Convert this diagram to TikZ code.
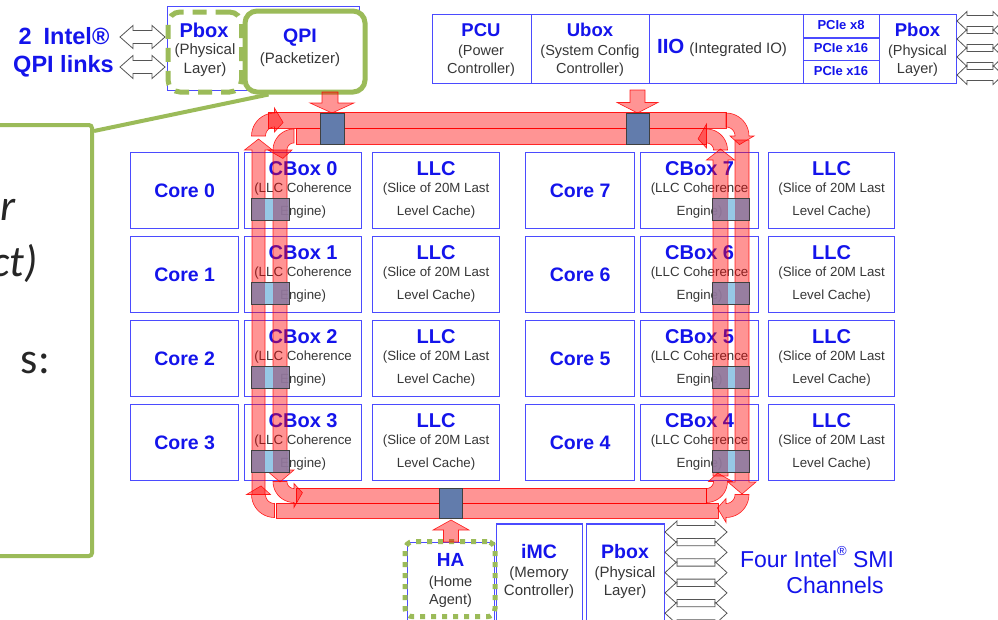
\documentclass[tikz,border=0pt]{standalone}
\usepackage{fontspec}
\setmainfont{Liberation Sans}
\newfontfamily\calibri{Carlito}
\definecolor{boxblue}{RGB}{75,75,255}
\definecolor{txtblue}{RGB}{20,20,235}
\definecolor{txtgray}{RGB}{55,55,55}
\definecolor{grn}{RGB}{155,187,89}
\definecolor{stopblue}{RGB}{98,124,172}
\definecolor{stoppurple}{RGB}{140,124,162}
\definecolor{stoplight}{RGB}{150,200,230}
\definecolor{arrgray}{RGB}{85,85,85}
\tikzset{
 cell/.style={draw=boxblue, line width=1.2pt, fill=white, inner sep=0pt},
 ttl/.style={font=\bfseries\fontsize{20}{24}\selectfont, text=txtblue, inner sep=0pt},
 ttlcore/.style={font=\bfseries\fontsize{19.5}{24}\selectfont, text=txtblue, inner sep=0pt},
 sub/.style={font=\fontsize{13.3}{16}\selectfont, text=txtgray, inner sep=0pt},
 ttlm/.style={font=\bfseries\fontsize{18.5}{22}\selectfont, text=txtblue, inner sep=0pt},
 subm/.style={font=\fontsize{14.5}{17}\selectfont, text=txtgray, inner sep=0pt},
 pcie/.style={font=\bfseries\fontsize{13}{15}\selectfont, text=txtblue, inner sep=0pt},
 big/.style={font=\bfseries\fontsize{23.5}{27}\selectfont, text=txtblue, inner sep=0pt},
 smi/.style={font=\fontsize{23}{27}\selectfont, text=txtblue, inner sep=0pt},
 ring/.style={fill=red, fill opacity=0.42, draw=red, draw opacity=0.85, line width=0.6pt},
 stopbox/.style={fill=stopblue, draw=black!75, line width=0.8pt, inner sep=0pt},
 hollow/.style={fill=white, draw=arrgray, line width=0.8pt},
 callfont/.style={font=\calibri\itshape\fontsize{44}{50}\selectfont, text=black!85, inner sep=0pt, anchor=base east},
}
\newcommand\corecell[5]{%
 \node[cell, anchor=north west, minimum width=#4pt, minimum height=76pt] (#1) at (#2,#3) {};
 \node[ttlcore] (#1-t) at (#1.center) {#5};}
\newcommand\cellthree[7]{%
 \node[cell, anchor=north west, minimum width=#4pt, minimum height=76pt] (#1) at (#2,#3) {};
 \node[ttl] (#1-t) at ([yshift=-16.3pt]#1.north) {#5};
 \node[sub] (#1-a) at ([yshift=-37.3pt]#1.north) {#6};
 \node[sub] (#1-b) at ([yshift=-59.7pt]#1.north) {#7};}
\newcommand\dblarrow[6]{%
 \draw[hollow] (#1,#3) -- ({#1+#6},{#3-#5}) -- ({#1+#6},{#3-#4}) -- ({#2-#6},{#3-#4}) -- ({#2-#6},{#3-#5}) -- (#2,#3)
  -- ({#2-#6},{#3+#5}) -- ({#2-#6},{#3+#4}) -- ({#1+#6},{#3+#4}) -- ({#1+#6},{#3+#5}) -- cycle;}
\newcommand\ringarc[6]{%
 \pgfmathsetmacro\rta{#5+#6*520/#3}%
 \pgfmathsetmacro\rro{#3+7}\pgfmathsetmacro\rri{#3-7}%
 \pgfmathsetmacro\rfo{#3+12}\pgfmathsetmacro\rfi{#3-12}%
 \path[ring] plot[domain=#4:#5,samples=12] ({#1+\rro*cos(\x)},{#2+\rro*sin(\x)})
   -- ({#1+\rfo*cos(#5)},{#2+\rfo*sin(#5)})
   -- ({#1+#3*cos(\rta)},{#2+#3*sin(\rta)})
   -- ({#1+\rfi*cos(#5)},{#2+\rfi*sin(#5)})
   -- plot[domain=#5:#4,samples=12] ({#1+\rri*cos(\x)},{#2+\rri*sin(\x)}) -- cycle;}
\begin{document}
\begin{tikzpicture}[x=1pt,y=-1pt]
\useasboundingbox (0,0) rectangle (998,619);
\clip (0,0) rectangle (998,619);
\fill[white] (0,0) rectangle (998,619);

% ---------- QPI links (top left)
\node[big] (qtxt1) at (64,36) {2\hspace{12pt}Intel®};
\node[big] (qtxt2) at (63.5,66) {QPI links};
\dblarrow{120}{165}{37}{6.5}{11.5}{13}
\dblarrow{120}{165}{67}{6.5}{11.5}{13}
\node[draw=boxblue, line width=1pt, anchor=north west, minimum width=192pt, minimum height=84pt, inner sep=0pt] (qpiblue) at (167,6) {};
\node[draw=grn, line width=5pt, dash pattern=on 14pt off 9pt, rounded corners=12pt, anchor=north west, minimum width=73.5pt, minimum height=80pt, inner sep=0pt] (pboxg) at (165.5,9.5) {};
\node[draw=grn, line width=5pt, rounded corners=12pt, anchor=north west, minimum width=120pt, minimum height=81pt, inner sep=0pt, fill=white] (qpig) at (242.5,8.5) {};
\node[font=\bfseries\fontsize{20}{24}\selectfont, text=txtblue, inner sep=0pt] (pbl-t) at (204,30) {Pbox};
\node[font=\fontsize{15}{18}\selectfont, text=txtgray, inner sep=0pt] (pbl-a) at (205,51) {(Physical};
\node[font=\fontsize{15}{18}\selectfont, text=txtgray, inner sep=0pt] (pbl-b) at (205,70) {Layer)};
\node[font=\bfseries\fontsize{19.5}{24}\selectfont, text=txtblue, inner sep=0pt] (qpi-t) at (300,38) {QPI};
\node[font=\fontsize{15}{18}\selectfont, text=txtgray, inner sep=0pt] (qpi-a) at (300,60) {(Packetizer)};

% ---------- callout
\node[draw=grn, line width=4pt, rounded corners=3pt, anchor=north east, minimum width=120pt, minimum height=431pt, inner sep=0pt] (callout) at (94,123) {};
\coordinate (qpiL) at ([xshift=26pt]qpig.south west);
\coordinate (callT) at ([yshift=-8pt]callout.north east);
\draw[grn, line width=4pt] (qpiL) -- (callT);
\node[callfont] (c1) at (16,220) {r};
\node[callfont] (c2) at (38,276) {ct)};
\node[callfont, font=\calibri\fontsize{44}{50}\selectfont] (c3) at (50,373) {s:};

% ---------- top right block
\node[cell, anchor=north west, minimum width=98.6pt, minimum height=69pt] (pcu) at (432,14) {};
\node[cell, anchor=north west, minimum width=118.4pt, minimum height=69pt] (ubox) at (530.6,14) {};
\node[cell, anchor=north west, minimum width=154pt, minimum height=69pt] (iio) at (649,14) {};
\node[cell, anchor=north west, minimum width=76pt, minimum height=23.3pt] (pc1) at (803,14) {};
\node[cell, anchor=north west, minimum width=76pt, minimum height=22.7pt] (pc2) at (803,37.3) {};
\node[cell, anchor=north west, minimum width=76pt, minimum height=23pt] (pc3) at (803,60) {};
\node[cell, anchor=north west, minimum width=77pt, minimum height=69pt] (pbr) at (879,14) {};
\node[ttlm] (pcu-t) at (481,30) {PCU};
\node[subm] (pcu-a) at (481,51.7) {(Power};
\node[subm] (pcu-b) at (481,70) {Controller)};
\node[ttlm] (ubox-t) at (590,30) {Ubox};
\node[subm] (ubox-a) at (590,51.7) {(System Config};
\node[subm] (ubox-b) at (590,70) {Controller)};
\node[inner sep=0pt] (iio-t) at (722,48) {\textcolor{txtblue}{\bfseries\fontsize{20.5}{24}\selectfont IIO}\hspace{5pt}\textcolor{txtgray}{\fontsize{15}{18}\selectfont(Integrated IO)}};
\node[pcie] (pc1-t) at (841,25.5) {PCIe x8};
\node[pcie] (pc2-t) at (841,48.5) {PCIe x16};
\node[pcie] (pc3-t) at (841,71) {PCIe x16};
\node[ttlm] (pbr-t) at (917.5,30) {Pbox};
\node[subm] (pbr-a) at (917.5,51.7) {(Physical};
\node[subm] (pbr-b) at (917.5,70) {Layer)};
\dblarrow{957}{1003}{21}{5.5}{9.5}{10}
\dblarrow{957}{1003}{39}{5.5}{9.5}{10}
\dblarrow{957}{1003}{57}{5.5}{9.5}{10}
\dblarrow{957}{1003}{75}{5.5}{9.5}{10}

% ---------- core grid
\corecell{core0}{130}{152}{108}{Core 0}
\corecell{core1}{130}{236}{108}{Core 1}
\corecell{core2}{130}{320}{108}{Core 2}
\corecell{core3}{130}{404}{108}{Core 3}
\cellthree{cb0}{244}{152}{117}{CBox 0}{(LLC Coherence}{Engine)}
\cellthree{cb1}{244}{236}{117}{CBox 1}{(LLC Coherence}{Engine)}
\cellthree{cb2}{244}{320}{117}{CBox 2}{(LLC Coherence}{Engine)}
\cellthree{cb3}{244}{404}{117}{CBox 3}{(LLC Coherence}{Engine)}
\cellthree{llc0}{372}{152}{127}{LLC}{(Slice of 20M Last}{Level Cache)}
\cellthree{llc1}{372}{236}{127}{LLC}{(Slice of 20M Last}{Level Cache)}
\cellthree{llc2}{372}{320}{127}{LLC}{(Slice of 20M Last}{Level Cache)}
\cellthree{llc3}{372}{404}{127}{LLC}{(Slice of 20M Last}{Level Cache)}
\corecell{core7}{525}{152}{109}{Core 7}
\corecell{core6}{525}{236}{109}{Core 6}
\corecell{core5}{525}{320}{109}{Core 5}
\corecell{core4}{525}{404}{109}{Core 4}
\cellthree{cb7}{640}{152}{118}{CBox 7}{(LLC Coherence}{Engine)}
\cellthree{cb6}{640}{236}{118}{CBox 6}{(LLC Coherence}{Engine)}
\cellthree{cb5}{640}{320}{118}{CBox 5}{(LLC Coherence}{Engine)}
\cellthree{cb4}{640}{404}{118}{CBox 4}{(LLC Coherence}{Engine)}
\cellthree{llc7}{768}{152}{126}{LLC}{(Slice of 20M Last}{Level Cache)}
\cellthree{llc6}{768}{236}{126}{LLC}{(Slice of 20M Last}{Level Cache)}
\cellthree{llc5}{768}{320}{126}{LLC}{(Slice of 20M Last}{Level Cache)}
\cellthree{llc4}{768}{404}{126}{LLC}{(Slice of 20M Last}{Level Cache)}

% ---------- bottom block
\node[cell, anchor=north west, minimum width=87pt, minimum height=82pt] (ha) at (407,541.7) {};
\node[cell, anchor=north west, minimum width=86pt, minimum height=100pt] (imc) at (496,523.3) {};
\node[cell, anchor=north west, minimum width=78pt, minimum height=100pt] (pbb) at (586,523.3) {};
\node[draw=grn, line width=5pt, dash pattern=on 5pt off 6pt, rounded corners=8pt, anchor=north west, minimum width=90pt, minimum height=75pt, inner sep=0pt] (hag) at (402.5,539.2) {};
\node[font=\bfseries\fontsize{19}{23}\selectfont, text=txtblue, inner sep=0pt] (ha-t) at (450.5,560) {HA};
\node[subm] (ha-a) at (450.5,582.7) {(Home};
\node[subm] (ha-b) at (450.5,600.7) {Agent)};
\node[font=\bfseries\fontsize{19.5}{23}\selectfont, text=txtblue, inner sep=0pt] (imc-t) at (539,551.7) {iMC};
\node[font=\fontsize{15}{18}\selectfont, text=txtgray, inner sep=0pt] (imc-a) at (539,573.3) {(Memory};
\node[font=\fontsize{15}{18}\selectfont, text=txtgray, inner sep=0pt] (imc-b) at (539,591.7) {Controller)};
\node[font=\bfseries\fontsize{19.5}{23}\selectfont, text=txtblue, inner sep=0pt] (pbb-t) at (625,551.7) {Pbox};
\node[font=\fontsize{15}{18}\selectfont, text=txtgray, inner sep=0pt] (pbb-a) at (625,573.3) {(Physical};
\node[font=\fontsize{15}{18}\selectfont, text=txtgray, inner sep=0pt] (pbb-b) at (625,591.7) {Layer)};
\dblarrow{665}{727}{532}{6.5}{11}{12}
\dblarrow{665}{727}{552.3}{6.5}{11}{12}
\dblarrow{665}{727}{572.6}{6.5}{11}{12}
\dblarrow{665}{727}{592.9}{6.5}{11}{12}
\dblarrow{665}{727}{613.2}{6.5}{11}{12}
\node[smi] (smi1) at (817,557) {Four Intel\raisebox{0.55em}{\fontsize{13}{13}\selectfont ®} SMI};
\node[smi] (smi2) at (835,585) {Channels};

% ---------- ring
\path[ring] (268,112) rectangle (726,128);
\path[ring] (296,128) rectangle (706.5,144);
\path[ring] (296,488) rectangle (706.5,503);
\path[ring] (276,503) rectangle (718,518);
\path[ring] (252,494.5) -- (252,150) -- (244.5,150) -- (258.5,139) -- (272.5,150) -- (265,150) -- (265,494.5) -- cycle;
\path[ring] (273,150) -- (287,150) -- (287,470) -- (294,470) -- (280,482) -- (266,470) -- (273,470) -- cycle;
\path[ring] (713,476) -- (713,160) -- (706.5,160) -- (720.5,149) -- (734.5,160) -- (728,160) -- (728,476) -- cycle;
\path[ring] (735,140) -- (749,140) -- (749,482) -- (756,482) -- (742,494) -- (728,482) -- (735,482) -- cycle;
\ringarc{274.5}{136}{16}{180}{270}{1}
\ringarc{294}{150}{14}{270}{180}{-1}
\ringarc{726}{136}{16}{270}{360}{1}
\ringarc{706.5}{150}{14}{360}{270}{-1}
\ringarc{726}{494.5}{16}{0}{90}{1}
\ringarc{706.5}{481.5}{14}{90}{0}{-1}
\ringarc{274.5}{494.5}{16}{90}{180}{1}
\ringarc{294}{481.5}{14}{180}{90}{-1}
% feed arrows
\path[ring] (322,92) -- (338,92) -- (338,103) -- (354,103) -- (332,113) -- (310,103) -- (322,103) -- cycle;
\path[ring] (630,90) -- (645,90) -- (645,102.5) -- (658,102.5) -- (637.5,113) -- (617,102.5) -- (630,102.5) -- cycle;
\path[ring] (443.5,542) -- (443.5,530) -- (433,530) -- (451,520) -- (469,530) -- (458.5,530) -- (458.5,542) -- cycle;

% ---------- ring stops
\node[stopbox, anchor=north west, minimum width=24pt, minimum height=31pt] (stop1) at (320,113) {};
\node[stopbox, anchor=north west, minimum width=23pt, minimum height=31pt] (stop2) at (626,113) {};
\node[stopbox, anchor=north west, minimum width=23pt, minimum height=30pt] (stop3) at (439,488) {};
\foreach \k in {0,1,2,3}{
 \pgfmathsetmacro\yy{198+84*\k}
 \fill[stoppurple, fill opacity=0.9] (251,\yy) rectangle (289,\yy+22);
 \fill[stoplight] (265,\yy) rectangle (273,\yy+22);
 \draw[black!75, line width=0.8pt] (251,\yy) rectangle (289,\yy+22);
 \fill[stoppurple, fill opacity=0.9] (712,\yy) rectangle (749,\yy+22);
 \fill[stoplight] (728,\yy) rectangle (735,\yy+22);
 \draw[black!75, line width=0.8pt] (712,\yy) rectangle (749,\yy+22);
}
\end{tikzpicture}
\end{document}
